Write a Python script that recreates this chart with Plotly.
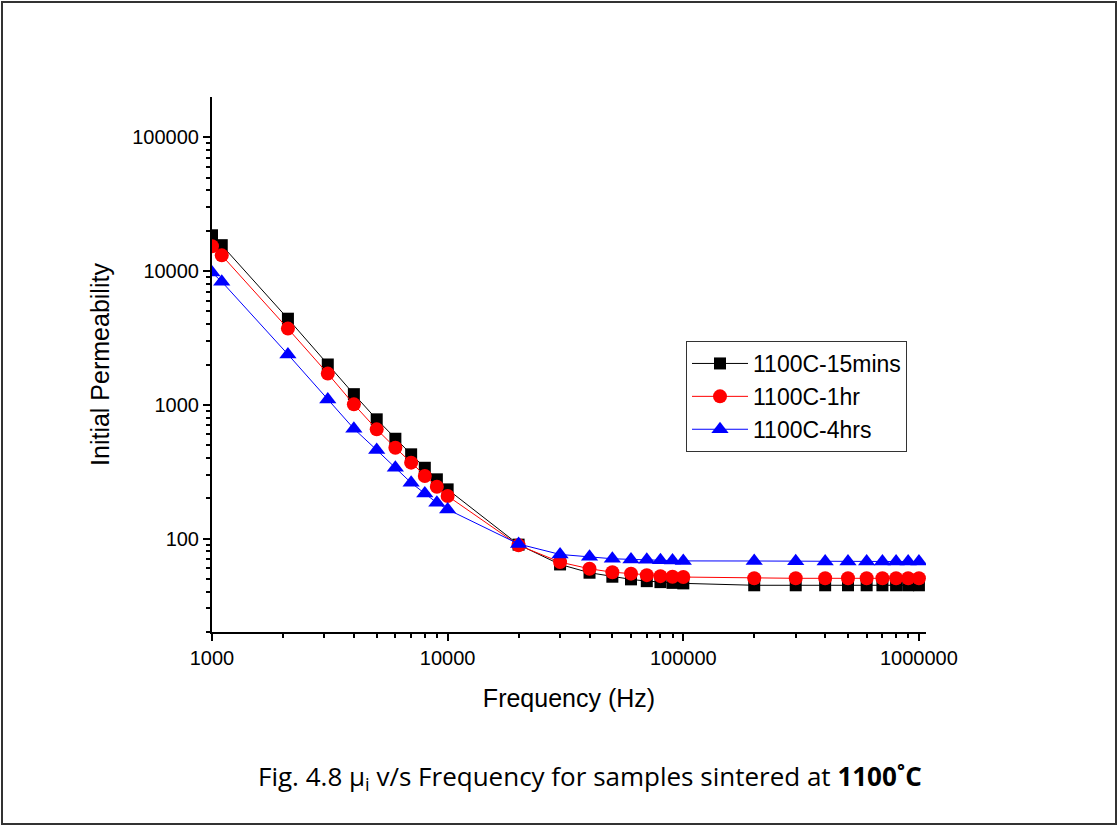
import plotly.graph_objects as go
import numpy as np

# Data
freq = [1000, 1100, 2100, 3100, 4000, 5000, 6000, 7000, 8000, 9000, 10000,
        20000, 30000, 40000, 50000, 60000, 70000, 80000, 90000, 100000,
        200000, 300000, 400000, 500000, 600000, 700000, 800000, 900000, 1000000]

mu_15min = [18500, 15600, 4400, 2000, 1200, 778, 557, 426, 338, 277, 233,
            90, 64, 55.5, 51.8, 49.5, 48, 47.2, 46.6, 46.2,
            44.7, 44.7, 44.7, 44.7, 44.7, 44.7, 44.7, 44.7, 44.7]
mu_1hr = [15300, 13100, 3710, 1710, 1007, 655, 477, 369, 293, 244, 208,
          89, 66.6, 59.4, 56, 54.6, 53.2, 52.3, 51.8, 51.5,
          50.4, 50.4, 50.4, 50.4, 50.4, 50.4, 50.4, 50.4, 50.4]
mu_4hrs = [9750, 8320, 2380, 1097, 662, 459, 338, 261, 217, 185, 165,
           91, 76, 73, 70.6, 69.8, 69.4, 68.8, 68.5, 68,
           67.9, 67.5, 67.3, 67.2, 67.2, 67.2, 67.2, 67.2, 67.2]

series_names = ["1100C-15mins", "1100C-1hr", "1100C-4hrs"]
x_major = [1000, 10000, 100000, 1000000]
y_major = [100, 1000, 10000, 100000]

x_minor = [m * 10 ** d for d in range(3, 6) for m in range(2, 10)]
y_minor = [m * 10 ** d for d in range(1, 5) for m in range(2, 10) if m * 10 ** d >= 20]

fig = go.Figure()
fig.add_trace(go.Scatter(x=freq, y=mu_15min, name=series_names[0], mode="lines+markers",
                         line=dict(color="black", width=1),
                         marker=dict(symbol="square", size=12, color="black")))
fig.add_trace(go.Scatter(x=freq, y=mu_1hr, name=series_names[1], mode="lines+markers",
                         line=dict(color="red", width=1),
                         marker=dict(symbol="circle", size=14, color="red")))
fig.add_trace(go.Scatter(x=freq, y=mu_4hrs, name=series_names[2], mode="lines+markers",
                         line=dict(color="blue", width=1),
                         marker=dict(symbol="triangle-up", size=15, color="blue")))

L, R, T, B = 212, 192, 97, 194
W, H = 1118, 826
pw, ph = W - L - R, H - T - B

fig.update_layout(
    width=W, height=H,
    margin=dict(l=L, r=R, t=T, b=B),
    paper_bgcolor="white", plot_bgcolor="white",
    font=dict(family="Liberation Sans, Arial, sans-serif", color="black"),
    showlegend=True,
    legend=dict(x=(686 - L) / pw, y=(632 - 341) / ph,
                xanchor="left", yanchor="top",
                bordercolor="#333333", borderwidth=1, bgcolor="white",
                font=dict(size=23, family="Liberation Sans, Arial, sans-serif"),
                tracegroupgap=0, itemwidth=56),
    xaxis=dict(type="log", range=[3, 6.03],
               title=dict(text="Frequency (Hz)", font=dict(size=25), standoff=21),
               tickvals=x_major, ticktext=[str(v) for v in x_major],
               tickfont=dict(size=20),
               ticks="outside", ticklen=7, tickwidth=2, tickcolor="black",
               showline=True, linecolor="black", linewidth=2,
               showgrid=False, zeroline=False,
               minor=dict(tickvals=x_minor, ticks="outside", ticklen=4,
                          tickwidth=1.5, tickcolor="black", showgrid=False)),
    yaxis=dict(type="log", range=[np.log10(20), np.log10(200000)],
               title=dict(text="Initial Permeability", font=dict(size=25), standoff=16),
               tickvals=y_major, ticktext=[str(v) for v in y_major],
               tickfont=dict(size=20),
               ticks="outside", ticklen=7, tickwidth=2, tickcolor="black",
               showline=True, linecolor="black", linewidth=2,
               showgrid=False, zeroline=False,
               minor=dict(tickvals=y_minor, ticks="outside", ticklen=4,
                          tickwidth=1.5, tickcolor="black", showgrid=False)),
)

# caption
fig.add_annotation(text="Fig. 4.8 μ<sub>i</sub> v/s Frequency for samples sintered at <b>1100˚C</b>",
                   xref="paper", yref="paper",
                   x=(590 - L) / pw, y=(632 - 777) / ph,
                   xanchor="center", yanchor="middle", showarrow=False,
                   font=dict(size=26, family="Open Sans, Lato, sans-serif", color="black"))

# outer border
fig.add_shape(type="rect", xref="paper", yref="paper",
              x0=(2 - L) / pw, x1=(1116 - L) / pw,
              y0=(632 - 824) / ph, y1=(632 - 2) / ph,
              line=dict(color="#333333", width=2), fillcolor="rgba(0,0,0,0)", layer="below")

fig.write_html("out.html", config={"displayModeBar": False},
               post_script="document.body.style.margin='0px';")
